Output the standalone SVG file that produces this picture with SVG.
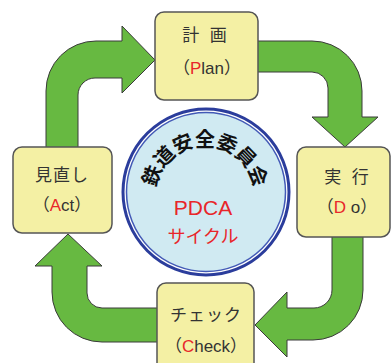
<svg xmlns="http://www.w3.org/2000/svg" width="392" height="363" viewBox="0 0 392 363">
<style>
.arrow{fill:#67b941;stroke:#3a3a3a;stroke-width:1;stroke-linejoin:miter}
.box{fill:#f4f0a4;stroke:#555;stroke-width:1.5}
.t{font-family:"Liberation Sans","Noto Sans CJK JP",sans-serif;font-size:17px;fill:#333;text-anchor:middle}
.r{fill:#e8262a}
.arc{font-family:"Noto Sans CJK JP",sans-serif;font-size:20px;font-weight:bold;fill:#111;text-anchor:middle;dominant-baseline:central}
.red{font-family:"Liberation Sans","Noto Sans CJK JP",sans-serif;fill:#e8262a;text-anchor:middle}
</style>
<rect width="392" height="363" fill="#fff"/>
<g id="connectors">
<path class="arrow" d="M46,150 L46,91 A50,50 0 0 1 96,41 L122,41 L122,26 L155,60 L122,93 L122,78 L95,78 A17,17 0 0 0 78,95 L78,150 Z"/>
<path class="arrow" d="M255,41 L312,41 A50,50 0 0 1 362,91 L362,117 L378,117 L345,147 L312,117 L328,117 L328,88 A16,16 0 0 0 312,72 L255,72 Z"/>
<path class="arrow" d="M363,234 L363,290 A50,50 0 0 1 313,340 L287,340 L287,357 L255,325 L287,292 L287,308 L314,308 A18,18 0 0 0 332,290 L332,234 Z"/>
<path class="arrow" d="M160,342 L102,342 A50,50 0 0 1 52,292 L52,266 L35,266 L68,234 L102,266 L87,266 L87,293 A15,15 0 0 0 102,308 L160,308 Z"/>
</g>
<g id="plan">
<rect class="box" x="155" y="12" width="103" height="88" rx="9"/>
<text class="t" x="206" y="41" letter-spacing="3">計 画</text>
<text class="t" x="207" y="74">（<tspan class="r">P</tspan>lan）</text>
</g>
<g id="do">
<rect class="box" x="297" y="147" width="93" height="90" rx="9"/>
<text class="t" x="348" y="183" letter-spacing="3">実 行</text>
<text class="t" x="347" y="213">（<tspan class="r">D</tspan> o）</text>
</g>
<g id="act">
<rect class="box" x="13" y="147" width="99" height="86" rx="9"/>
<text class="t" x="62" y="181" letter-spacing="1">見直し</text>
<text class="t" x="62" y="211">（<tspan class="r">A</tspan>ct）</text>
</g>
<g id="check">
<rect class="box" x="157" y="283" width="97" height="92" rx="9"/>
<text class="t" x="206" y="321" letter-spacing="1">チェック</text>
<text class="t" x="206" y="352">（<tspan class="r">C</tspan>heck）</text>
</g>
<g id="center">
<circle cx="206" cy="192" r="83" fill="none" stroke="#2b3d9c" stroke-width="3"/>
<circle cx="206" cy="192" r="79.5" fill="#d0eaf2" stroke="#4259b6" stroke-width="1.5"/>
<text class="arc" transform="translate(150.9,175.2) rotate(-69)">鉄</text>
<text class="arc" transform="translate(163.3,155.7) rotate(-46)">道</text>
<text class="arc" transform="translate(182.3,142.6) rotate(-23)">安</text>
<text class="arc" transform="translate(205,138)">全</text>
<text class="arc" transform="translate(227.7,142.6) rotate(23)">委</text>
<text class="arc" transform="translate(246.7,155.7) rotate(46)">員</text>
<text class="arc" transform="translate(259.1,175.2) rotate(69)">会</text>
<text class="red" x="203" y="214.5" font-size="21">PDCA</text>
<text class="red" x="203" y="243" font-size="18">サイクル</text>
</g>
</svg>
